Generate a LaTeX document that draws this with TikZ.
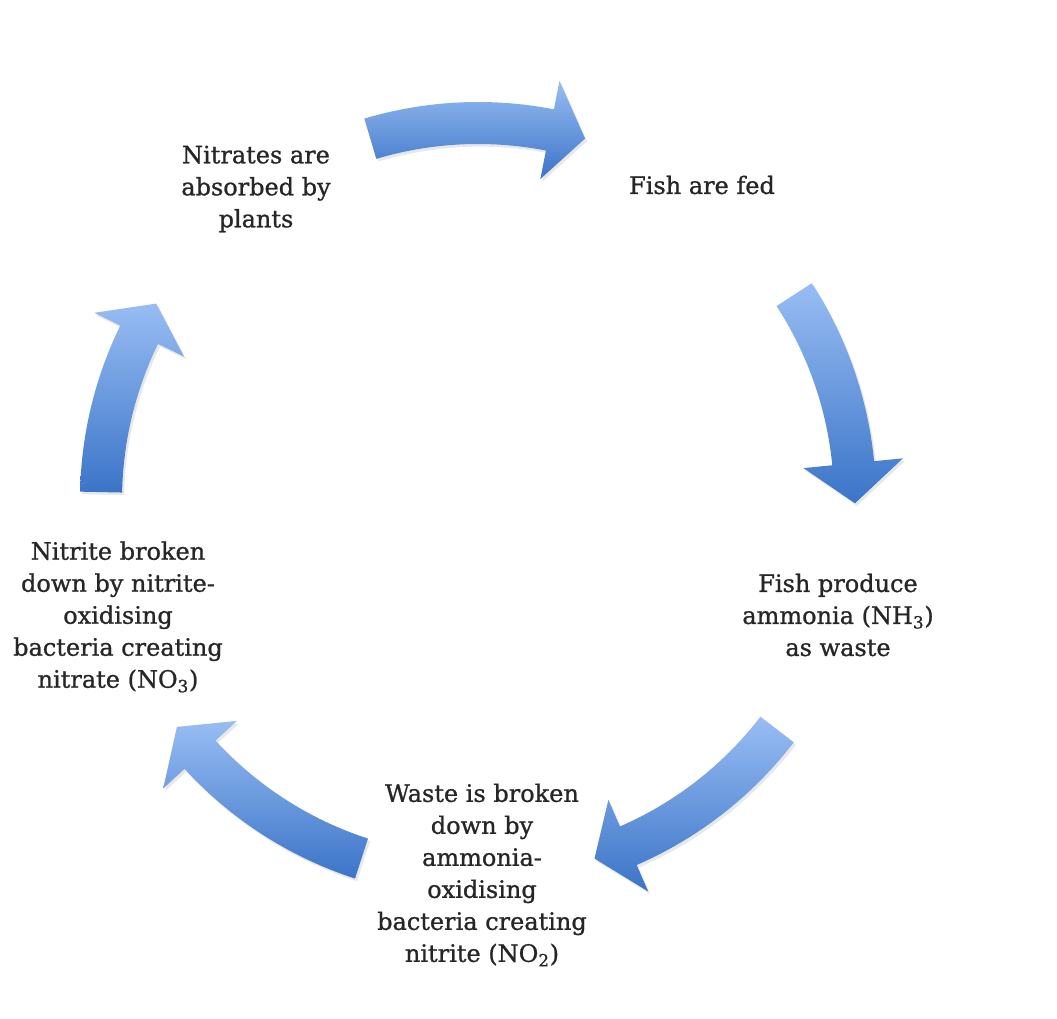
\documentclass[tikz,border=0pt]{standalone}
\usepackage{fontspec}
\setmainfont[FakeBold=0.9]{DejaVu Serif}
\usetikzlibrary{shadows}
\definecolor{arrowlight}{HTML}{98BDF3}
\definecolor{arrowdark}{HTML}{3B74C8}
\definecolor{txt}{HTML}{262626}
\newcommand\cyclearrow[3]{%
  \path[cyclearrowstyle]
    ([shift={(#1:398)}]C) arc[start angle=#1, end angle=#2, radius=398]
    -- ([shift={(#2:427)}]C) -- ([shift={(#3:377)}]C) -- ([shift={(#2:327)}]C)
    -- ([shift={(#2:356)}]C) arc[start angle=#2, end angle=#1, radius=356] -- cycle;}
\begin{document}
\begin{tikzpicture}[x=0.75pt,y=0.75pt,
  cyclearrowstyle/.style={top color=arrowlight, bottom color=arrowdark,
    drop shadow={shadow xshift=1.5pt, shadow yshift=-2pt, opacity=0.15, fill=black!60}},
  label/.style={align=center, font=\fontsize{18}{24}\selectfont, text=txt, inner sep=0pt}]
\useasboundingbox[fill=white] (0,0) rectangle (1057,1018);
\coordinate (C) at (478,518);
\cyclearrow{106.6}{79}{73.5}
\cyclearrow{33}{5.6}{-0.5}
\cyclearrow{-37.5}{-66.5}{-72}
\cyclearrow{-108}{-137.5}{-143}
\cyclearrow{178.8}{154}{148.6}
\node[label] (nitrates) at (256,829) {Nitrates are\\absorbed by\\plants};
\node[label] (fed) at (702,833) {Fish are fed};
\node[label] (ammonia) at (838,403) {Fish produce\\ammonia (NH\textsubscript{3})\\as waste};
\node[label] (waste) at (482,143) {Waste is broken\\down by\\ammonia-\\oxidising\\bacteria creating\\nitrite (NO\textsubscript{2})};
\node[label] (nitrite) at (118,401) {Nitrite broken\\down by nitrite-\\oxidising\\bacteria creating\\nitrate (NO\textsubscript{3})};
\end{tikzpicture}
\end{document}
